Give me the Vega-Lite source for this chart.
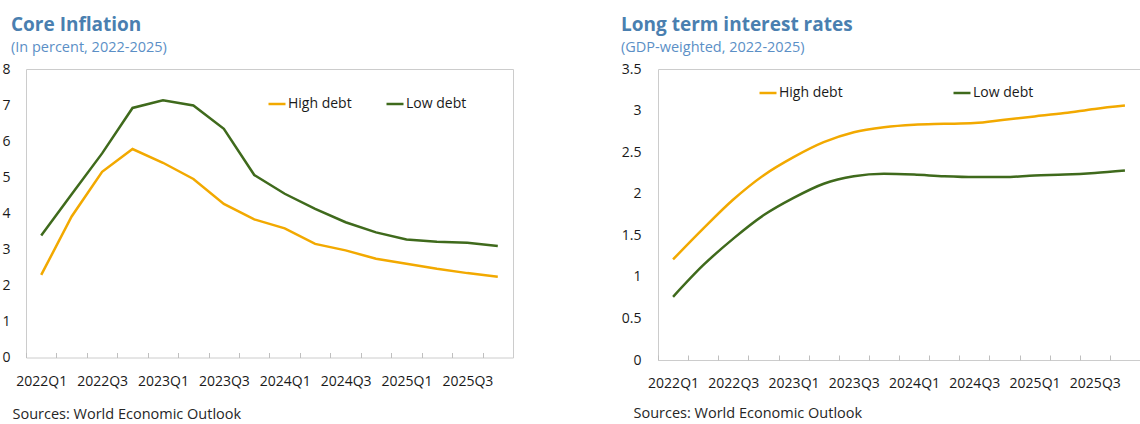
{
  "$schema": "https://vega.github.io/schema/vega-lite/v6.json",
  "padding": {"left": 1, "top": 15, "right": 0, "bottom": 0},
  "background": "white",
  "spacing": 106,
  "resolve": {"scale": {"color": "independent"}},
  "config": {
    "font": "Open Sans",
    "view": {"stroke": "#cccccc", "strokeWidth": 1},
    "axis": {"labelFont": "Open Sans", "labelFontSize": 14, "labelColor": "#1a1a1a", "grid": false},
    "legend": {"labelFont": "Open Sans"}
  },
  "datasets": {
    "inflation": [
      {"q": "2022Q1", "s": "High debt", "v": 2.29}, {"q": "2022Q2", "s": "High debt", "v": 3.91},
      {"q": "2022Q3", "s": "High debt", "v": 5.15}, {"q": "2022Q4", "s": "High debt", "v": 5.78},
      {"q": "2023Q1", "s": "High debt", "v": 5.40}, {"q": "2023Q2", "s": "High debt", "v": 4.95},
      {"q": "2023Q3", "s": "High debt", "v": 4.26}, {"q": "2023Q4", "s": "High debt", "v": 3.83},
      {"q": "2024Q1", "s": "High debt", "v": 3.58}, {"q": "2024Q2", "s": "High debt", "v": 3.15},
      {"q": "2024Q3", "s": "High debt", "v": 2.97}, {"q": "2024Q4", "s": "High debt", "v": 2.74},
      {"q": "2025Q1", "s": "High debt", "v": 2.60}, {"q": "2025Q2", "s": "High debt", "v": 2.46},
      {"q": "2025Q3", "s": "High debt", "v": 2.34}, {"q": "2025Q4", "s": "High debt", "v": 2.24},
      {"q": "2022Q1", "s": "Low debt", "v": 3.38}, {"q": "2022Q2", "s": "Low debt", "v": 4.53},
      {"q": "2022Q3", "s": "Low debt", "v": 5.66}, {"q": "2022Q4", "s": "Low debt", "v": 6.92},
      {"q": "2023Q1", "s": "Low debt", "v": 7.13}, {"q": "2023Q2", "s": "Low debt", "v": 6.99},
      {"q": "2023Q3", "s": "Low debt", "v": 6.34}, {"q": "2023Q4", "s": "Low debt", "v": 5.06},
      {"q": "2024Q1", "s": "Low debt", "v": 4.54}, {"q": "2024Q2", "s": "Low debt", "v": 4.12},
      {"q": "2024Q3", "s": "Low debt", "v": 3.75}, {"q": "2024Q4", "s": "Low debt", "v": 3.47},
      {"q": "2025Q1", "s": "Low debt", "v": 3.27}, {"q": "2025Q2", "s": "Low debt", "v": 3.21},
      {"q": "2025Q3", "s": "Low debt", "v": 3.18}, {"q": "2025Q4", "s": "Low debt", "v": 3.09}
    ],
    "rates": [
      {"q": "2022Q1", "s": "High debt", "v": 1.21}, {"q": "2022Q2", "s": "High debt", "v": 1.58},
      {"q": "2022Q3", "s": "High debt", "v": 1.93}, {"q": "2022Q4", "s": "High debt", "v": 2.22},
      {"q": "2023Q1", "s": "High debt", "v": 2.44}, {"q": "2023Q2", "s": "High debt", "v": 2.62},
      {"q": "2023Q3", "s": "High debt", "v": 2.74}, {"q": "2023Q4", "s": "High debt", "v": 2.80},
      {"q": "2024Q1", "s": "High debt", "v": 2.83}, {"q": "2024Q2", "s": "High debt", "v": 2.84},
      {"q": "2024Q3", "s": "High debt", "v": 2.85}, {"q": "2024Q4", "s": "High debt", "v": 2.89},
      {"q": "2025Q1", "s": "High debt", "v": 2.93}, {"q": "2025Q2", "s": "High debt", "v": 2.97},
      {"q": "2025Q3", "s": "High debt", "v": 3.02}, {"q": "2025Q4", "s": "High debt", "v": 3.06},
      {"q": "2022Q1", "s": "Low debt", "v": 0.76}, {"q": "2022Q2", "s": "Low debt", "v": 1.14},
      {"q": "2022Q3", "s": "Low debt", "v": 1.46}, {"q": "2022Q4", "s": "Low debt", "v": 1.74},
      {"q": "2023Q1", "s": "Low debt", "v": 1.95}, {"q": "2023Q2", "s": "Low debt", "v": 2.12},
      {"q": "2023Q3", "s": "Low debt", "v": 2.21}, {"q": "2023Q4", "s": "Low debt", "v": 2.24},
      {"q": "2024Q1", "s": "Low debt", "v": 2.23}, {"q": "2024Q2", "s": "Low debt", "v": 2.21},
      {"q": "2024Q3", "s": "Low debt", "v": 2.20}, {"q": "2024Q4", "s": "Low debt", "v": 2.20},
      {"q": "2025Q1", "s": "Low debt", "v": 2.22}, {"q": "2025Q2", "s": "Low debt", "v": 2.23},
      {"q": "2025Q3", "s": "Low debt", "v": 2.25}, {"q": "2025Q4", "s": "Low debt", "v": 2.28}
    ]
  },
  "hconcat": [
    {
      "width": 487,
      "height": 288.5,
      "title": {"text": "Core Inflation", "subtitle": "(In percent, 2022-2025)", "anchor": "start", "frame": "group", "dx": -15, "font": "Open Sans", "fontSize": 19, "fontWeight": "bold", "color": "#4a7fb0", "subtitleFont": "Open Sans", "subtitleFontSize": 14.5, "subtitleColor": "#5b8fc6", "subtitlePadding": 6, "offset": 8},
      "data": {"name": "inflation"},
      "mark": {"type": "line", "strokeWidth": 2.5, "interpolate": "linear"},
      "encoding": {
        "x": {
          "field": "q", "type": "ordinal", "sort": null,
          "scale": {"type": "band", "paddingInner": 0, "paddingOuter": 0},
          "axis": {"title": "Sources: World Economic Outlook", "titleAnchor": "start", "titleAlign": "left", "titleX": -14, "titleY": 66, "titleBaseline": "alphabetic", "titleFont": "Open Sans", "titleFontSize": 14.5, "titleFontWeight": "normal", "titleColor": "#262626", "labelAngle": 0, "labelOverlap": false, "labelExpr": "indexof(datum.value, 'Q1') > 0 || indexof(datum.value, 'Q3') > 0 ? datum.value : ''", "tickOffset": -15.22, "labelOffset": 15.22, "domain": false, "offset": -5, "tickSize": 5, "tickColor": "#bfbfbf", "labelPadding": 17}
        },
        "y": {
          "field": "v", "type": "quantitative",
          "scale": {"domain": [0, 8]},
          "axis": {"title": null, "values": [0, 1, 2, 3, 4, 5, 6, 7, 8], "domain": false, "ticks": false, "labelPadding": 16}
        },
        "color": {
          "field": "s", "type": "nominal",
          "scale": {"domain": ["High debt", "Low debt"], "range": ["#f2a900", "#3f6a1c"]},
          "legend": {"title": null, "orient": "none", "legendX": 241, "legendY": 25, "direction": "horizontal", "symbolType": "stroke", "symbolStrokeWidth": 2.5, "symbolSize": 289, "labelFontSize": 14, "labelOffset": 1, "columnPadding": 29, "labelColor": "#1a1a1a"}
        }
      }
    },
    {
      "width": 482,
      "height": 291,
      "title": {"text": "Long term interest rates", "subtitle": "(GDP-weighted, 2022-2025)", "anchor": "start", "frame": "group", "dx": -37, "font": "Open Sans", "fontSize": 19, "fontWeight": "bold", "color": "#4a7fb0", "subtitleFont": "Open Sans", "subtitleFontSize": 14.5, "subtitleColor": "#5b8fc6", "subtitlePadding": 6, "offset": 8},
      "data": {"name": "rates"},
      "mark": {"type": "line", "strokeWidth": 2.5, "interpolate": "monotone"},
      "encoding": {
        "x": {
          "field": "q", "type": "ordinal", "sort": null,
          "scale": {"type": "band", "paddingInner": 0, "paddingOuter": 0},
          "axis": {"title": "Sources: World Economic Outlook", "titleAnchor": "start", "titleAlign": "left", "titleX": -25, "titleY": 62.5, "titleBaseline": "alphabetic", "titleFont": "Open Sans", "titleFontSize": 14.5, "titleFontWeight": "normal", "titleColor": "#262626", "labelAngle": 0, "labelOverlap": false, "labelExpr": "indexof(datum.value, 'Q1') > 0 || indexof(datum.value, 'Q3') > 0 ? datum.value : ''", "tickOffset": -15.06, "labelOffset": 15.06, "domain": false, "offset": -5, "tickSize": 5, "tickColor": "#bfbfbf", "labelPadding": 16}
        },
        "y": {
          "field": "v", "type": "quantitative",
          "scale": {"domain": [0, 3.5]},
          "axis": {"title": null, "values": [0, 0.5, 1, 1.5, 2, 2.5, 3, 3.5], "format": "~g", "domain": false, "ticks": false, "labelPadding": 17}
        },
        "color": {
          "field": "s", "type": "nominal",
          "scale": {"domain": ["High debt", "Low debt"], "range": ["#f2a900", "#3f6a1c"]},
          "legend": {"title": null, "orient": "none", "legendX": 100, "legendY": 14, "direction": "horizontal", "symbolType": "stroke", "symbolStrokeWidth": 2.5, "symbolSize": 289, "labelFontSize": 14, "labelOffset": 1, "columnPadding": 105, "labelColor": "#1a1a1a"}
        }
      }
    }
  ]
}
